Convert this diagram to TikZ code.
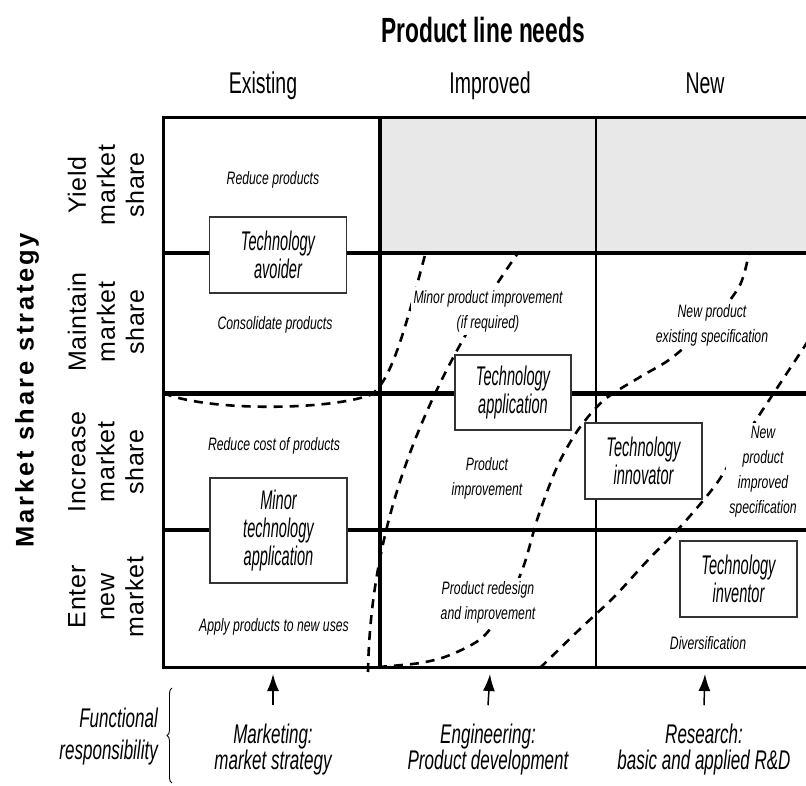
\documentclass[tikz,border=0pt]{standalone}
\usepackage{fontspec}
\usepackage{tikz}
\usetikzlibrary{arrows.meta,decorations.pathreplacing}
\setmainfont{Liberation Sans}
\newfontfamily\headfont{Liberation Sans}[FakeStretch=0.65]
\newfontfamily\boxfont{Liberation Sans}[FakeStretch=0.54]
\newfontfamily\cellfont{Liberation Sans}[FakeStretch=0.68]
\newfontfamily\footfont{Liberation Sans}[FakeStretch=0.63]
\newfontfamily\rowfont{Liberation Sans}[LetterSpace=3]
\newfontfamily\axisfont{Liberation Sans}[LetterSpace=11]
\def\gridleft{163}
\def\gridright{815}
\def\gridtop{117}
\def\gridbottom{667}

\begin{document}
\begin{tikzpicture}[x=1pt,y=-1pt,line join=miter]
    \tikzstyle{role box}=[draw=black!80,line width=1.4pt,fill=white,align=center,inner sep=2pt,
        font=\boxfont\itshape\fontsize{27}{28}\selectfont]
    \tikzstyle{cell text}=[fill=white,align=center,inner sep=3pt,
        font=\cellfont\itshape\fontsize{18}{25}\selectfont]
    \tikzstyle{col head}=[anchor=base,font=\headfont\fontsize{30}{30}\selectfont]
    \tikzstyle{row head}=[rotate=90,align=center,font=\rowfont\fontsize{25}{29}\selectfont]
    \tikzstyle{duty}=[align=center,inner sep=2pt,font=\footfont\itshape\fontsize{27}{26}\selectfont]
    \tikzstyle{trend}=[line width=2.6pt,dash pattern=on 9pt off 7pt]
    \tikzstyle{duty arrow}=[-{Latex[length=17pt,width=12pt]},line width=1.5pt]

    \useasboundingbox (0,0) rectangle (806,785);

    % Shade the cells that are not used
    \fill[black!9] (380,\gridtop) rectangle (\gridright,253);

    % Draw the dashed trend curves
    \draw[trend] (\gridleft,393) .. controls (210,412) and (330,410) .. (370,395)
        .. controls (390,385) and (405,330) .. (425,255);
    \draw[trend] (368,672) .. controls (370,560) and (400,420) .. (518,253);
    \draw[trend] plot[smooth] coordinates {(378,667) (420,663) (450,655) (483,637)
        (508,602) (524,565) (538,517) (557,467) (578,430) (604,400) (640,377)
        (673,357) (715,318) (740,285) (749,253)};
    \draw[trend] plot[smooth] coordinates {(540,668) (581,628) (614,597) (648,560)
        (682,525) (717,483) (745,437) (787,373) (818,326)};

    % Draw the grid
    \draw[line width=3pt] (\gridright,\gridtop) -- (\gridleft,\gridtop)
        -- (\gridleft,\gridbottom) -- (\gridright,\gridbottom);
    \foreach \y/\w in {253/3.5, 393/5, 530/4.5}
        \draw[line width=\w pt] (\gridleft,\y) -- (\gridright,\y);
    \draw[line width=4pt] (380,\gridtop) -- (380,\gridbottom);
    \draw[line width=2.5pt] (596,\gridtop) -- (596,\gridbottom);

    % Column and row headings
    \node[anchor=base,font=\headfont\bfseries\fontsize{35}{35}\selectfont] (needs) at (483,42) {Product line needs};
    \node[col head] (existing) at (263,93) {Existing};
    \node[col head] (improved) at (490,93) {Improved};
    \node[col head] (new) at (705,93) {New};
    \node[rotate=90,font=\axisfont\bfseries\fontsize{25.5}{26}\selectfont] (strategy) at (27,390) {Market share strategy};
    \node[row head] (yield) at (106,185) {Yield\\market\\share};
    \node[row head] (maintain) at (106,322) {Maintain\\market\\share};
    \node[row head] (increase) at (106,462) {Increase\\market\\share};
    \node[row head] (enter) at (106,597) {Enter\\new\\market};

    % Texts of the cells
    \node[cell text] (reduce) at (273,180) {Reduce products};
    \node[cell text] (consolidate) at (275,325) {Consolidate products};
    \node[cell text] (cost) at (274,446) {Reduce cost of products};
    \node[cell text] (apply) at (274,627) {Apply products to new uses};
    \node[cell text] (minor) at (488,311) {Minor product improvement\\(if required)};
    \node[cell text] (prodimp) at (487,478) {Product\\improvement};
    \node[cell text] (redesign) at (488,602) {Product redesign\\and improvement};
    \node[cell text] (newexist) at (712,325) {New product\\existing specification};
    \node[cell text] (newimp) at (763,472) {New\\product\\improved\\specification};
    \node[cell text] (divers) at (708,643) {Diversification};

    % Technology roles
    \node[role box,minimum width=137pt,minimum height=76pt] (avoider) at (278,255) {Technology\\avoider};
    \node[role box,minimum width=116pt,minimum height=75pt] (application) at (513,392.5) {Technology\\application};
    \node[role box,minimum width=117pt,minimum height=76pt] (innovator) at (643.5,461) {Technology\\innovator};
    \node[role box,minimum width=137pt,minimum height=105pt] (minortech) at (278.5,530.5) {Minor\\technology\\application};
    \node[role box,minimum width=117pt,minimum height=76pt] (inventor) at (738.5,579) {Technology\\inventor};

    % Functional responsibility
    \node[duty,anchor=east,align=right] (functional) at (160,737) {Functional\\[6pt]responsibility};
    \coordinate (brace bottom) at (172,783);
    \coordinate (brace top) at (172,688);
    \draw[line width=0.9pt,decorate,decoration={brace,amplitude=5pt}] (brace bottom) -- (brace top);
    \node[duty] (mkt) at (273,750) {Marketing:\\market strategy};
    \node[duty] (eng) at (488,750) {Engineering:\\Product development};
    \node[duty] (res) at (704,750) {Research:\\basic and applied R\&D};
    \coordinate (mkt tip) at (273,674);
    \coordinate (eng tip) at (490,674);
    \coordinate (res tip) at (705,674);
    \foreach \source in {mkt,eng,res}
        \draw[duty arrow] ([yshift=17pt]\source.north) -- (\source\space tip);
\end{tikzpicture}
\end{document}
